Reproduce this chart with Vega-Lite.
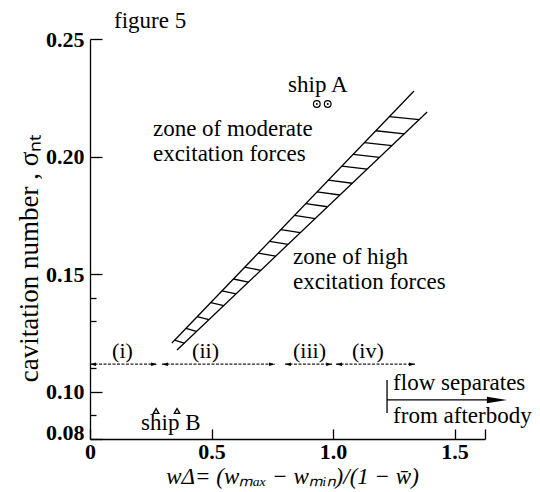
{
  "$schema": "https://vega.github.io/schema/vega-lite/v6.json",
  "width": 395,
  "height": 400,
  "autosize": {"type": "none"},
  "padding": {"left": 90, "top": 39, "right": 55, "bottom": 53},
  "background": "white",
  "config": {"view": {"stroke": null}, "font": "Liberation Serif"},
  "datasets": {
    "lines": [
      {"x": 0.337, "y": 0.1208, "x2": 1.333, "y2": 0.2279},
      {"x": 0.358, "y": 0.1178, "x2": 1.387, "y2": 0.2190},
      {"x": 0.348, "y": 0.122, "x2": 0.3875, "y2": 0.1207},
      {"x": 0.395, "y": 0.127, "x2": 0.438, "y2": 0.1257},
      {"x": 0.441, "y": 0.132, "x2": 0.489, "y2": 0.1307},
      {"x": 0.497, "y": 0.138, "x2": 0.550, "y2": 0.1367},
      {"x": 0.543, "y": 0.143, "x2": 0.601, "y2": 0.1417},
      {"x": 0.590, "y": 0.148, "x2": 0.652, "y2": 0.1467},
      {"x": 0.636, "y": 0.153, "x2": 0.703, "y2": 0.1517},
      {"x": 0.692, "y": 0.159, "x2": 0.764, "y2": 0.1577},
      {"x": 0.739, "y": 0.164, "x2": 0.815, "y2": 0.1627},
      {"x": 0.785, "y": 0.169, "x2": 0.865, "y2": 0.1677},
      {"x": 0.841, "y": 0.175, "x2": 0.927, "y2": 0.1737},
      {"x": 0.888, "y": 0.180, "x2": 0.977, "y2": 0.1787},
      {"x": 0.934, "y": 0.185, "x2": 1.028, "y2": 0.1837},
      {"x": 0.981, "y": 0.190, "x2": 1.079, "y2": 0.1887},
      {"x": 1.036, "y": 0.196, "x2": 1.140, "y2": 0.1947},
      {"x": 1.083, "y": 0.201, "x2": 1.191, "y2": 0.1997},
      {"x": 1.129, "y": 0.206, "x2": 1.242, "y2": 0.2047},
      {"x": 1.176, "y": 0.211, "x2": 1.293, "y2": 0.2097},
      {"x": 1.232, "y": 0.217, "x2": 1.354, "y2": 0.2157},
      {"x": 1.222, "y": 0.0910, "x2": 1.222, "y2": 0.1051},
      {"x": 1.222, "y": 0.0966, "x2": 1.69, "y2": 0.0966}
    ],
    "ranges": [
      {"x": 0.0, "y": 0.1118, "x2": 0.276, "y2": 0.1118},
      {"x": 0.296, "y": 0.1118, "x2": 0.761, "y2": 0.1118},
      {"x": 0.802, "y": 0.1118, "x2": 0.996, "y2": 0.1118},
      {"x": 1.012, "y": 0.1118, "x2": 1.337, "y2": 0.1118}
    ],
    "heads": [
      {"x": 0.0, "y": 0.1118, "dir": "left"},
      {"x": 0.276, "y": 0.1118, "dir": "right"},
      {"x": 0.296, "y": 0.1118, "dir": "left"},
      {"x": 0.761, "y": 0.1118, "dir": "right"},
      {"x": 0.802, "y": 0.1118, "dir": "left"},
      {"x": 0.996, "y": 0.1118, "dir": "right"},
      {"x": 1.012, "y": 0.1118, "dir": "left"},
      {"x": 1.337, "y": 0.1118, "dir": "right"}
    ],
    "flowhead": [{"x": 1.715, "y": 0.0966}],
    "shipA": [{"x": 0.933, "y": 0.2224}, {"x": 0.978, "y": 0.2224}],
    "shipB": [{"x": 0.272, "y": 0.0919}, {"x": 0.358, "y": 0.0919}],
    "texts": [
      {"label": "zone of moderate", "x": 0.259, "y": 0.2088},
      {"label": "excitation forces", "x": 0.259, "y": 0.1981},
      {"label": "zone of high", "x": 0.835, "y": 0.1544},
      {"label": "excitation forces", "x": 0.835, "y": 0.1437},
      {"label": "flow separates", "x": 1.247, "y": 0.1008},
      {"label": "from afterbody", "x": 1.247, "y": 0.0868},
      {"label": "ship A", "x": 0.815, "y": 0.2275},
      {"label": "ship B", "x": 0.210, "y": 0.0838}
    ],
    "zones": [
      {"label": "(i)", "x": 0.091, "y": 0.1144},
      {"label": "(ii)", "x": 0.420, "y": 0.1144},
      {"label": "(iii)", "x": 0.835, "y": 0.1144},
      {"label": "(iv)", "x": 1.078, "y": 0.1144}
    ],
    "fig": [{"label": "figure 5", "x": 0.099, "y": 0.2547}]
  },
  "layer": [
    {
      "data": {"name": "lines"},
      "mark": {"type": "rule", "color": "black", "strokeWidth": 1.3},
      "encoding": {
        "x": {
          "field": "x", "type": "quantitative",
          "scale": {"domain": [0, 1.625], "nice": false, "zero": false},
          "axis": {
            "values": [0, 0.5, 1, 1.5, 1.625],
            "labelExpr": "datum.value == 0 ? '0' : (datum.value > 1.6 ? '' : format(datum.value, '.1f'))",
            "tickSize": -10,
            "labelPadding": 12,
            "labelFont": "Liberation Serif",
            "labelFontSize": 22,
            "labelFontWeight": "bold",
            "labelColor": "black",
            "labelFlush": false,
            "labelOverlap": false,
            "domainColor": "black",
            "domainWidth": 1.3,
            "tickColor": "black",
            "tickWidth": 1.3,
            "grid": false,
            "title": "wΔ= (wₘₐₓ − wₘᵢₙ)/(1 − w̄)",
            "titleFont": "Liberation Serif",
            "titleFontSize": 23,
            "titleFontWeight": "normal",
            "titleFontStyle": "italic",
            "titleColor": "black",
            "titleAlign": "center",
            "titleBaseline": "alphabetic",
            "titleX": 202,
            "titleY": 44
          }
        },
        "y": {
          "field": "y", "type": "quantitative",
          "scale": {"domain": [0.08, 0.25], "nice": false, "zero": false},
          "axis": {
            "values": [0.08, 0.09, 0.1, 0.11, 0.13, 0.14, 0.15, 0.2, 0.25],
            "labelExpr": "indexof([0.08, 0.1, 0.15, 0.2, 0.25], datum.value) >= 0 ? format(datum.value, '.2f') : ''",
            "tickSize": {"condition": {"test": "indexof([0.08, 0.1, 0.15, 0.2, 0.25], datum.value) >= 0", "value": -12}, "value": -6},
            "labelOffset": {"condition": {"test": "datum.value < 0.085", "value": -7}, "value": 0},
            "labelPadding": 18,
            "labelFont": "Liberation Serif",
            "labelFontSize": 22,
            "labelFontWeight": "bold",
            "labelColor": "black",
            "labelFlush": false,
            "labelOverlap": false,
            "domainColor": "black",
            "domainWidth": 1.3,
            "tickColor": "black",
            "tickWidth": 1.3,
            "grid": false,
            "title": "cavitation number , σₙₜ",
            "titleFont": "Liberation Serif",
            "titleFontSize": 27,
            "titleFontWeight": "normal",
            "titleColor": "black",
            "titleAngle": -90,
            "titleAlign": "center",
            "titleBaseline": "alphabetic",
            "titleX": -53,
            "titleY": 219
          }
        },
        "x2": {"field": "x2"},
        "y2": {"field": "y2"}
      }
    },
    {
      "data": {"name": "ranges"},
      "mark": {"type": "rule", "color": "#222", "strokeWidth": 1.2, "strokeDash": [3, 1.5]},
      "encoding": {
        "x": {"field": "x", "type": "quantitative"},
        "y": {"field": "y", "type": "quantitative"},
        "x2": {"field": "x2"},
        "y2": {"field": "y2"}
      }
    },
    {
      "data": {"name": "heads"},
      "mark": {"type": "point", "filled": true, "color": "black", "size": 36, "opacity": 1},
      "encoding": {
        "x": {"field": "x", "type": "quantitative"},
        "y": {"field": "y", "type": "quantitative"},
        "shape": {
          "field": "dir", "type": "nominal", "legend": null,
          "scale": {"domain": ["left", "right"], "range": ["M0,0L2,-0.6L2,0.6Z", "M0,0L-2,-0.6L-2,0.6Z"]}
        }
      }
    },
    {
      "data": {"name": "flowhead"},
      "mark": {"type": "point", "filled": true, "color": "black", "size": 400, "opacity": 1, "shape": "M0,0L-2,-0.33L-2,0.33Z"},
      "encoding": {
        "x": {"field": "x", "type": "quantitative"},
        "y": {"field": "y", "type": "quantitative"}
      }
    },
    {
      "data": {"name": "shipA"},
      "mark": {"type": "point", "shape": "circle", "filled": false, "color": "black", "size": 45, "strokeWidth": 1.2, "opacity": 1},
      "encoding": {
        "x": {"field": "x", "type": "quantitative"},
        "y": {"field": "y", "type": "quantitative"}
      }
    },
    {
      "data": {"name": "shipA"},
      "mark": {"type": "point", "shape": "circle", "filled": true, "color": "black", "size": 4, "opacity": 1},
      "encoding": {
        "x": {"field": "x", "type": "quantitative"},
        "y": {"field": "y", "type": "quantitative"}
      }
    },
    {
      "data": {"name": "shipB"},
      "mark": {"type": "point", "shape": "triangle-up", "filled": false, "color": "black", "size": 30, "strokeWidth": 1.3, "opacity": 1},
      "encoding": {
        "x": {"field": "x", "type": "quantitative"},
        "y": {"field": "y", "type": "quantitative"}
      }
    },
    {
      "data": {"name": "texts"},
      "mark": {"type": "text", "align": "left", "baseline": "alphabetic", "font": "Liberation Serif", "fontSize": 23, "color": "black"},
      "encoding": {
        "x": {"field": "x", "type": "quantitative"},
        "y": {"field": "y", "type": "quantitative"},
        "text": {"field": "label"}
      }
    },
    {
      "data": {"name": "zones"},
      "mark": {"type": "text", "align": "left", "baseline": "alphabetic", "font": "Liberation Serif", "fontSize": 22, "color": "black"},
      "encoding": {
        "x": {"field": "x", "type": "quantitative"},
        "y": {"field": "y", "type": "quantitative"},
        "text": {"field": "label"}
      }
    },
    {
      "data": {"name": "fig"},
      "mark": {"type": "text", "align": "left", "baseline": "alphabetic", "font": "Liberation Serif", "fontSize": 23, "color": "black"},
      "encoding": {
        "x": {"field": "x", "type": "quantitative"},
        "y": {"field": "y", "type": "quantitative"},
        "text": {"field": "label"}
      }
    }
  ]
}
